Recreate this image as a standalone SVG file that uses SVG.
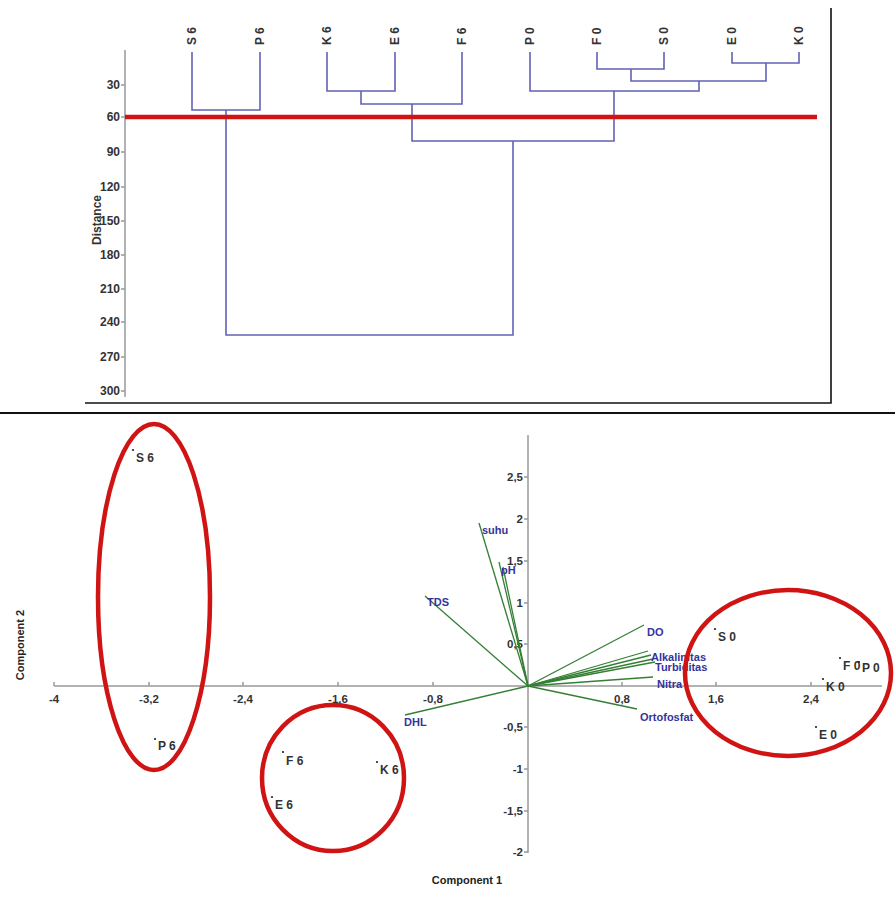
<svg xmlns="http://www.w3.org/2000/svg" width="895" height="899" viewBox="0 0 895 899">
<style>
text{font-family:"Liberation Sans",Arial,sans-serif}
.tk{font-size:12px;font-weight:bold;fill:#333}
.lf{font-size:12px;font-weight:bold;fill:#333}
.ax{stroke:#999;stroke-width:1.5;fill:none}
.den{stroke:#6262b4;stroke-width:1.6;fill:none}
.cut{stroke:#d01414;stroke-width:4.5}
.vec{stroke:#357f35;stroke-width:1.3;fill:none}
.vl{font-size:11px;font-weight:bold;fill:#34349c}
.pl{font-size:12px;font-weight:bold;fill:#333}
.dot{fill:#222}
.ring{stroke:#d01414;stroke-width:4.5;fill:none}
.frame{stroke:#111;stroke-width:1.6;fill:none}
.ptk{font-size:11.5px;font-weight:bold;fill:#333}
.title{font-size:11px;font-weight:bold;fill:#222}
</style>
<rect width="895" height="899" fill="#fff"/>

<g id="dendrogram">
  <g id="dendro-frame">
    <path class="frame" d="M85 403 H831 V8"/>
  </g>
  <g id="dendro-axis">
    <path class="ax" d="M125 50 V397"/>
    <path class="ax" d="M121 85 H125 M121 117 H125 M121 152 H125 M121 187 H125 M121 221 H125 M121 255 H125 M121 289 H125 M121 322 H125 M121 357 H125 M121 391 H125"/>
    <g class="tk" text-anchor="end">
      <text x="120" y="89">30</text>
      <text x="120" y="121">60</text>
      <text x="120" y="156">90</text>
      <text x="120" y="191">120</text>
      <text x="120" y="225">150</text>
      <text x="120" y="259">180</text>
      <text x="120" y="293">210</text>
      <text x="120" y="326">240</text>
      <text x="120" y="361">270</text>
      <text x="120" y="395">300</text>
    </g>
    <text class="tk" text-anchor="middle" transform="translate(101 220) rotate(-90)">Distance</text>
  </g>
  <g id="dendro-leaves" class="lf">
    <text transform="translate(196 45) rotate(-90)">S 6</text>
    <text transform="translate(264 45) rotate(-90)">P 6</text>
    <text transform="translate(331 45) rotate(-90)">K 6</text>
    <text transform="translate(399 45) rotate(-90)">E 6</text>
    <text transform="translate(466 45) rotate(-90)">F 6</text>
    <text transform="translate(534 45) rotate(-90)">P 0</text>
    <text transform="translate(601 45) rotate(-90)">F 0</text>
    <text transform="translate(668 45) rotate(-90)">S 0</text>
    <text transform="translate(736 45) rotate(-90)">E 0</text>
    <text transform="translate(803 45) rotate(-90)">K 0</text>
  </g>
  <g id="dendro-links">
    <path class="den" d="M192 52 V110 H260 V52"/>
    <path class="den" d="M327 52 V91 H395 V52"/>
    <path class="den" d="M361 91 V104 H462 V52"/>
    <path class="den" d="M597 52 V69 H664 V52"/>
    <path class="den" d="M732 52 V63 H799 V52"/>
    <path class="den" d="M631 69 V81 H766 V63"/>
    <path class="den" d="M530 52 V91 H699 V81"/>
    <path class="den" d="M412 104 V141 H614 V91"/>
    <path class="den" d="M226 110 V335 H513 V141"/>
  </g>
  <line id="cut-line" class="cut" x1="125" y1="117" x2="817" y2="117"/>
</g>

<line id="separator" x1="0" y1="413" x2="895" y2="413" stroke="#111" stroke-width="2"/>

<g id="pca">
  <g id="pca-axes">
    <path class="ax" d="M54 686 H882"/>
    <path class="ax" d="M528 435 V853"/>
    <path class="ax" d="M54 682 V686 M149 682 V686 M243 682 V686 M338 682 V686 M433 682 V686 M622 682 V686 M716 682 V686 M811 682 V686"/>
    <path class="ax" d="M524 477 H528 M524 519 H528 M524 561 H528 M524 603 H528 M524 644 H528 M524 727 H528 M524 769 H528 M524 811 H528 M524 852 H528"/>
    <g class="ptk" text-anchor="middle">
      <text x="54" y="703">-4</text>
      <text x="149" y="703">-3,2</text>
      <text x="243" y="703">-2,4</text>
      <text x="338" y="703">-1,6</text>
      <text x="433" y="703">-0,8</text>
      <text x="622" y="703">0,8</text>
      <text x="716" y="703">1,6</text>
      <text x="811" y="703">2,4</text>
    </g>
    <g class="ptk" text-anchor="end">
      <text x="523" y="481">2,5</text>
      <text x="523" y="523">2</text>
      <text x="523" y="565">1,5</text>
      <text x="523" y="607">1</text>
      <text x="523" y="648">0,5</text>
      <text x="523" y="731">-0,5</text>
      <text x="523" y="773">-1</text>
      <text x="523" y="815">-1,5</text>
      <text x="523" y="856">-2</text>
    </g>
    <text class="title" x="467" y="884" text-anchor="middle">Component 1</text>
    <text class="title" text-anchor="middle" transform="translate(24 645) rotate(-90)">Component 2</text>
  </g>

  <g id="loadings">
    <path class="vec" d="M528 686 L479 523"/>
    <path class="vec" d="M528 686 L499 562"/>
    <path class="vec" d="M528 686 L503 567"/>
    <path class="vec" d="M528 686 L425 596"/>
    <path class="vec" d="M528 686 L644 625"/>
    <path class="vec" d="M528 686 L648 651"/>
    <path class="vec" d="M528 686 L651 655"/>
    <path class="vec" d="M528 686 L653 659"/>
    <path class="vec" d="M528 686 L655 662"/>
    <path class="vec" d="M528 686 L653 677"/>
    <path class="vec" d="M528 686 L637 709"/>
    <path class="vec" d="M528 686 L405 715"/>
  </g>
  <g id="loading-labels" class="vl">
    <text x="482" y="534">suhu</text>
    <text x="501" y="574">pH</text>
    <text x="427" y="606">TDS</text>
    <text x="647" y="636">DO</text>
    <text x="651" y="661">Alkalinitas</text>
    <text x="655" y="671">Turbiditas</text>
    <text x="657" y="688">Nitra</text>
    <text x="640" y="721">Ortofosfat</text>
    <text x="404" y="726">DHL</text>
  </g>

  <g id="scores">
    <g id="pt-S6"><circle class="dot" cx="133" cy="450" r="1.1"/><text class="pl" x="136" y="462">S 6</text></g>
    <g id="pt-P6"><circle class="dot" cx="155" cy="739" r="1.1"/><text class="pl" x="158" y="750">P 6</text></g>
    <g id="pt-F6"><circle class="dot" cx="283" cy="752" r="1.1"/><text class="pl" x="286" y="765">F 6</text></g>
    <g id="pt-E6"><circle class="dot" cx="272" cy="797" r="1.1"/><text class="pl" x="275" y="809">E 6</text></g>
    <g id="pt-K6"><circle class="dot" cx="377" cy="762" r="1.1"/><text class="pl" x="380" y="774">K 6</text></g>
    <g id="pt-S0"><circle class="dot" cx="715" cy="629" r="1.1"/><text class="pl" x="718" y="641">S 0</text></g>
    <g id="pt-F0"><circle class="dot" cx="840" cy="658" r="1.1"/><text class="pl" x="843" y="670">F 0</text></g>
    <g id="pt-P0"><circle class="dot" cx="859" cy="662" r="1.1"/><text class="pl" x="862" y="672">P 0</text></g>
    <g id="pt-K0"><circle class="dot" cx="823" cy="679" r="1.1"/><text class="pl" x="826" y="691">K 0</text></g>
    <g id="pt-E0"><circle class="dot" cx="816" cy="727" r="1.1"/><text class="pl" x="819" y="739">E 0</text></g>
  </g>

  <g id="clusters">
    <ellipse id="cluster-left" class="ring" cx="154" cy="597" rx="56" ry="173"/>
    <ellipse id="cluster-mid" class="ring" cx="333" cy="778" rx="71" ry="73"/>
    <ellipse id="cluster-right" class="ring" cx="788" cy="673" rx="103" ry="83"/>
  </g>
</g>
</svg>
